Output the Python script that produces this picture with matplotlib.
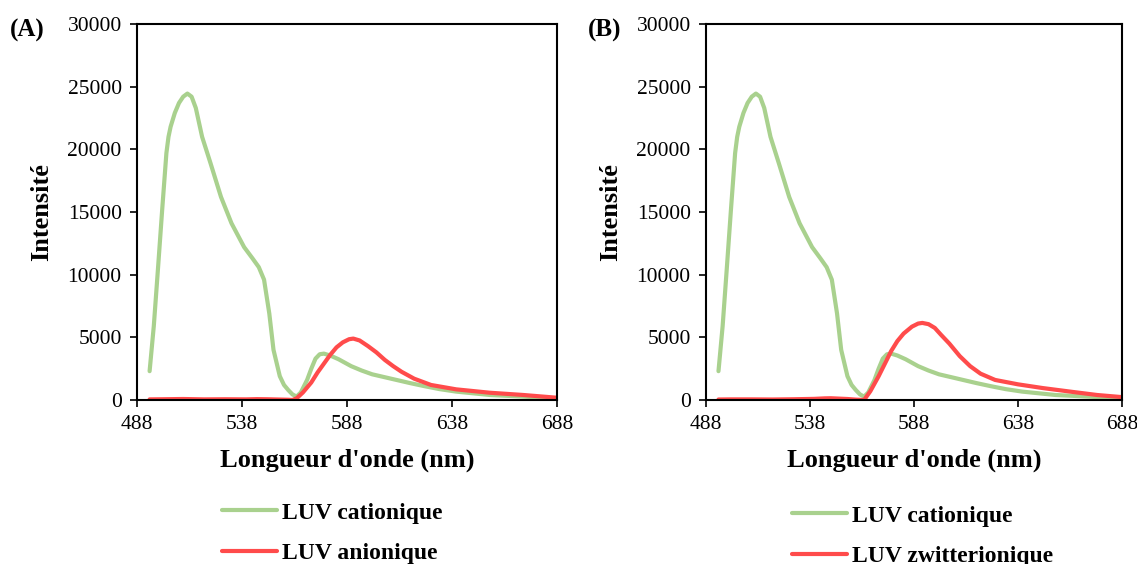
import matplotlib
matplotlib.use("Agg")
import matplotlib.pyplot as plt

# ---- data ----
x_cat = [494, 496, 498, 500, 502, 503, 504, 506, 508, 510, 512, 514, 516, 519, 523, 528, 533,
         539, 543, 546, 548.5, 551, 553, 556, 558, 560, 562, 564, 566, 569, 571, 573, 575, 577,
         580, 584, 590, 595, 600, 609, 618, 625, 632, 640, 656, 672, 688]
y_cat = [2300, 5900, 10500, 15200, 19700, 21000, 21800, 22900, 23700, 24200, 24450, 24200, 23300,
         21000, 18900, 16200, 14100, 12200, 11300, 10600, 9600, 6900, 4000, 1900, 1200, 800, 450,
         270, 600, 1600, 2500, 3300, 3650, 3700, 3550, 3250, 2700, 2350, 2050, 1700, 1350, 1100,
         870, 670, 400, 270, 130]

x_an = [494, 500, 510, 520, 530, 540, 545, 550, 555, 560, 562, 564, 567, 571, 574, 577, 580, 583,
        586, 589, 591, 594, 598, 602, 606, 610, 614, 620, 628, 640, 656, 672, 688]
y_an = [50, 60, 80, 50, 60, 50, 70, 60, 40, 20, 0, 130, 600, 1400, 2200, 2900, 3600, 4200, 4600,
        4850, 4900, 4750, 4300, 3800, 3200, 2700, 2250, 1700, 1200, 850, 580, 400, 180]

x_zw = [494, 500, 510, 520, 530, 540, 545, 548, 552, 556, 560, 564, 567, 571, 574, 577, 580, 583,
        587, 590, 592, 595, 598, 601, 605, 610, 615, 620, 627, 638, 650, 664, 676, 688]
y_zw = [40, 50, 50, 40, 60, 90, 130, 140, 110, 80, 30, 0, 700, 1900, 2900, 3900, 4700, 5300, 5850,
        6100, 6150, 6050, 5750, 5200, 4500, 3500, 2700, 2100, 1600, 1250, 950, 650, 400, 230]

x_ticks = [488, 538, 588, 638, 688]
y_ticks = [0, 5000, 10000, 15000, 20000, 25000, 30000]

panels = [
    ("(A)", "LUV anionique", x_an, y_an),
    ("(B)", "LUV zwitterionique", x_zw, y_zw),
]

GREEN = "#a9d18e"
RED = "#ff4b4b"

plt.rcParams['font.family'] = ['Liberation Serif', 'DejaVu Serif']

fig = plt.figure(figsize=(11.37, 5.64), dpi=100)
W, H = 1137, 564
ax_boxes = [(137, 557), (706, 1122)]
top_px, bot_px = 24, 400

for i, (plabel, rlabel, xr, yr) in enumerate(panels):
    l, r = ax_boxes[i]
    ax = fig.add_axes([l / W, 1 - bot_px / H, (r - l) / W, (bot_px - top_px) / H])
    ax.plot(x_cat, y_cat, color=GREEN, lw=3.0, label="LUV cationique", solid_capstyle='round')
    ax.plot(xr, yr, color=RED, lw=3.0, label=rlabel, solid_capstyle='round')
    ax.set_xlim(488, 688)
    ax.set_ylim(0, 30000)
    ax.set_xticks(x_ticks)
    ax.set_yticks(y_ticks)
    ax.tick_params(direction='out', length=5, width=1.2, labelsize=15.5, pad=6)
    for s in ax.spines.values():
        s.set_linewidth(1.5)
    ax.set_xlabel("Longueur d'onde (nm)", fontsize=19, fontweight='bold', labelpad=10)
    ax.set_ylabel("Intensité", fontsize=19, fontweight='bold', labelpad=10)
    lx = 10 / W if i == 0 else 588 / W
    fig.text(lx, 1 - 30 / H, plabel, fontsize=18, fontweight='bold', va='center', ha='left')
    leg_x = 222 / W if i == 0 else 792 / W
    leg_y = 502 if i == 0 else 505
    ax.legend(loc='upper left', bbox_to_anchor=(leg_x, 1 - leg_y / H),
              bbox_transform=fig.transFigure, frameon=False,
              prop={'size': 17, 'weight': 'bold'}, handlelength=2.35,
              handletextpad=0.2, labelspacing=0.8, borderpad=0, borderaxespad=0)

fig.savefig("out.png", dpi=100)
